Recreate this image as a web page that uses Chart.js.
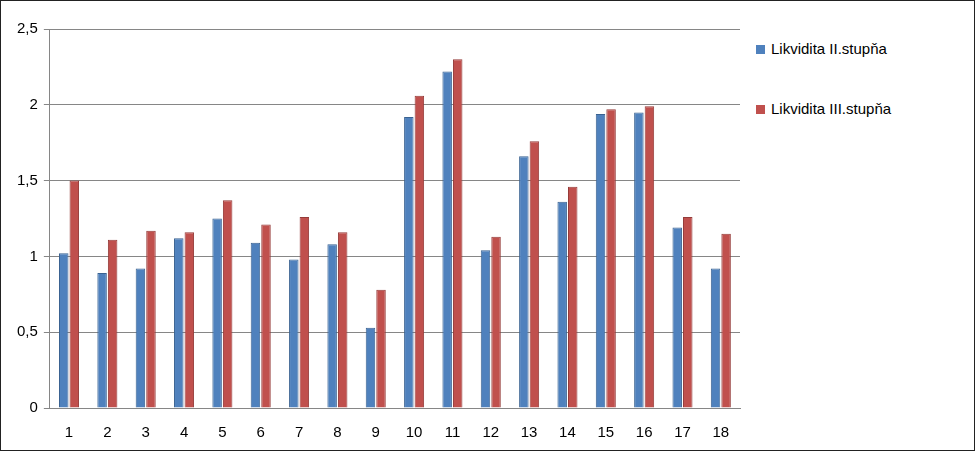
<!DOCTYPE html>
<html><head><meta charset="utf-8">
<script src="https://cdn.jsdelivr.net/npm/chart.js@4"></script>
<style>
html,body{margin:0;padding:0;background:#fff;}
#wrap{position:relative;width:975px;height:451px;box-sizing:border-box;border:1px solid #222;}
#cv{position:absolute;left:0;top:0;}
.lg{position:absolute;left:755px;font-family:"Liberation Sans",Arial,sans-serif;font-size:15px;color:#000;}
.lg span{display:inline-block;width:9px;height:9px;margin-right:6px;}
</style></head><body>
<div id="wrap">
<canvas id="cv" width="745" height="449"></canvas>
<div class="lg" style="top:39px"><span style="background:#4F81BD"></span>Likvidita II.stupňa</div>
<div class="lg" style="top:99px"><span style="background:#C0504D"></span>Likvidita III.stupňa</div>
</div>
<script>
const categories=["1","2","3","4","5","6","7","8","9","10","11","12","13","14","15","16","17","18"];
const seriesNames=["Likvidita II.stupňa","Likvidita III.stupňa"];
const likvidita2=[1.02,0.89,0.92,1.12,1.25,1.09,0.98,1.08,0.53,1.92,2.22,1.04,1.66,1.36,1.94,1.95,1.19,0.92];
const likvidita3=[1.50,1.11,1.17,1.16,1.37,1.21,1.26,1.16,0.78,2.06,2.30,1.13,1.76,1.46,1.97,1.99,1.26,1.15];
const yTicks=[0,0.5,1,1.5,2,2.5];
new Chart(document.getElementById('cv'),{
type:'bar',
data:{labels:categories,datasets:[
{label:seriesNames[0],data:likvidita2,backgroundColor:'#4F81BD',borderColor:'#3A6291',borderWidth:1,categoryPercentage:0.55,barPercentage:0.9},
{label:seriesNames[1],data:likvidita3,backgroundColor:'#C0504D',borderColor:'#953B39',borderWidth:1,categoryPercentage:0.55,barPercentage:0.9}
]},
options:{responsive:false,animation:false,
layout:{padding:{top:28,right:6,left:10,bottom:0}},
plugins:{legend:{display:false},tooltip:{enabled:false}},
scales:{
x:{grid:{display:false},border:{color:'#868686'},ticks:{color:'#000',font:{family:'Liberation Sans',size:15},padding:8}},
y:{min:0,max:2.5,afterBuildTicks:a=>{a.ticks=yTicks.map(v=>({value:v}));},
grid:{color:'#868686',drawTicks:true,tickLength:6},border:{color:'#868686'},
ticks:{color:'#000',font:{family:'Liberation Sans',size:15},padding:6,callback:v=>String(v).replace('.',',')}}
}}});
</script></body></html>
